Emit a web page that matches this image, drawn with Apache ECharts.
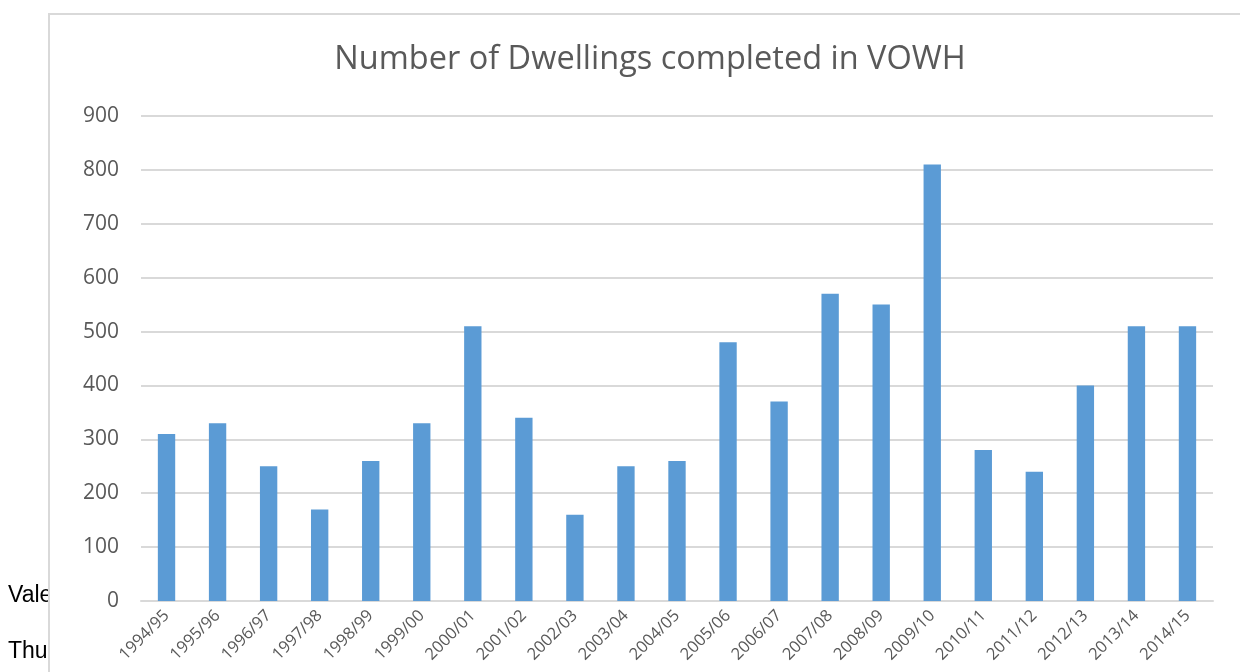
<!DOCTYPE html>
<html><head><meta charset="utf-8">
<script src="https://cdn.jsdelivr.net/npm/echarts@6/dist/echarts.min.js"></script>
<style>html,body{margin:0;padding:0;background:#fff}#c{width:1240px;height:672px}</style>
</head><body><div id="c"></div>
<script>
const categories = ["1994/95","1995/96","1996/97","1997/98","1998/99","1999/00","2000/01","2001/02","2002/03","2003/04","2004/05","2005/06","2006/07","2007/08","2008/09","2009/10","2010/11","2011/12","2012/13","2013/14","2014/15"];
const dwellings = [310,330,250,170,260,330,510,340,160,250,260,480,370,570,550,810,280,240,400,510,510];
const yTicks = {min:0, max:900, interval:100};
const titleText = "Number of Dwellings completed in VOWH";
const sideTexts = ["Vale", "Thu"];

const chart = echarts.init(document.getElementById('c'));
chart.setOption({
  animation:false,
  backgroundColor:'#fff',
  title:{text:titleText,left:650,top:38,textAlign:'center',
    textStyle:{color:'#595959',fontSize:32.5,fontWeight:'normal',fontFamily:'Open Sans'}},
  graphic:[
    {type:'text',left:8,top:584,z:-20,style:{text:sideTexts[0],fontSize:23,fontFamily:'Liberation Sans',fill:'#000'}},
    {type:'text',left:8,top:640,z:-20,style:{text:sideTexts[1],fontSize:23,fontFamily:'Liberation Sans',fill:'#000'}},
    {type:'rect',z:-10,shape:{x:49,y:14,width:1300,height:800},style:{fill:'#fff',stroke:'#d9d9d9',lineWidth:2}}
  ],
  grid:{left:141,right:27,top:116,bottom:71,containLabel:false},
  xAxis:{type:'category',data:categories,
    axisLine:{lineStyle:{color:'#d9d9d9',width:2}},
    axisTick:{show:false},
    axisLabel:{rotate:45,color:'#595959',fontSize:16.5,fontFamily:'Open Sans',margin:12,interval:0}},
  yAxis:{type:'value',min:yTicks.min,max:yTicks.max,interval:yTicks.interval,
    axisLine:{show:false},axisTick:{show:false},
    splitLine:{lineStyle:{color:'#d9d9d9',width:2}},
    axisLabel:{color:'#595959',fontSize:21,fontFamily:'Open Sans',margin:22}},
  series:[{type:'bar',data:dwellings,barWidth:'34%',
    itemStyle:{color:'#5b9bd5'}}]
});
chart.setOption({title:{left:645}});
</script></body></html>
